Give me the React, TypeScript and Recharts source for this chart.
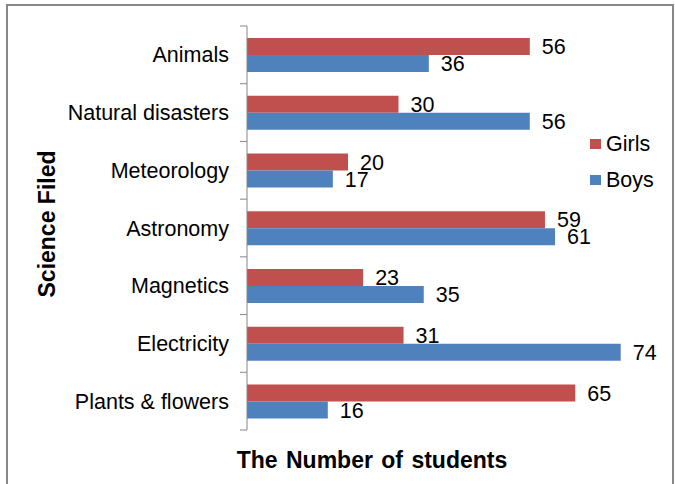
import React from 'react'
import { BarChart, Bar, XAxis, YAxis, Legend, LabelList } from 'recharts'

const categories = ['Animals', 'Natural disasters', 'Meteorology', 'Astronomy', 'Magnetics', 'Electricity', 'Plants & flowers']
const seriesNames = ['Girls', 'Boys']
const girls = [56, 30, 20, 59, 23, 31, 65]
const boys = [36, 56, 17, 61, 35, 74, 16]

const data = categories.map((name, i) => ({ name, girls: girls[i], boys: boys[i] }))

const FONT = '"Liberation Sans", Arial, sans-serif'
const AXIS_GRAY = '#868686'
const MARGIN = { top: 26, right: 24, bottom: 0, left: 67 }
const X_AXIS_H = 54
const PLOT_H = 484 - MARGIN.top - MARGIN.bottom - X_AXIS_H
const STEP = PLOT_H / categories.length

// category label plus the small tick marks that sit between categories
function CategoryTick(props: any) {
  const { x, y, payload, index } = props
  const tickY = y - STEP / 2
  return (
    <g>
      <text x={x} y={y} dy="0.35em" textAnchor="end" fontSize={21.5} fill="#000" fontFamily={FONT}>
        {payload.value}
      </text>
      <line x1={x + 11} x2={x + 18} y1={tickY} y2={tickY} stroke={AXIS_GRAY} />
      {index === categories.length - 1 && (
        <line x1={x + 11} x2={x + 18} y1={y + STEP / 2} y2={y + STEP / 2} stroke={AXIS_GRAY} />
      )}
    </g>
  )
}

function renderLegend(props: any) {
  const items = [...(props.payload || [])].sort(
    (a: any, b: any) => seriesNames.indexOf(a.value) - seriesNames.indexOf(b.value),
  )
  return (
    <div style={{ fontFamily: FONT, fontSize: 21.5, color: '#000' }}>
      {items.map((item: any) => (
        <div key={item.value} style={{ display: 'flex', alignItems: 'center', height: 36 }}>
          <span style={{ width: 11, height: 10, background: item.color, display: 'inline-block', marginRight: 5 }} />
          <span>{item.value}</span>
        </div>
      ))}
    </div>
  )
}

export default function App() {
  return (
    <div style={{ position: 'absolute', left: 0, top: 0, width: 675, height: 484, background: '#fff', overflow: 'hidden' }}>
      <div
        style={{
          position: 'absolute',
          left: 6,
          top: 4,
          width: 668,
          height: 490,
          boxSizing: 'border-box',
          borderTop: '2px solid #888',
          borderLeft: '2px solid #888',
          borderRight: '2px solid #888',
        }}
      />
      <BarChart
        width={675}
        height={484}
        data={data}
        layout="vertical"
        margin={MARGIN}
        barCategoryGap="21%"
        barGap={0}
        style={{ position: 'absolute', left: 0, top: 0 }}
      >
        <XAxis
          type="number"
          domain={[0, 80]}
          height={X_AXIS_H}
          axisLine={false}
          tickLine={false}
          tick={false}
          label={{
            content: (p: any) => {
              const vb = p.viewBox
              return (
                <text
                  x={vb.x + 125}
                  y={vb.y + 38}
                  textAnchor="middle"
                  fontSize={23}
                  fontWeight="bold"
                  wordSpacing={2}
                  fill="#000"
                  fontFamily={FONT}
                >
                  The Number of students
                </text>
              )
            },
          }}
        />
        <YAxis
          type="category"
          dataKey="name"
          width={180}
          axisLine={{ stroke: AXIS_GRAY }}
          tickLine={false}
          tickSize={7}
          tickMargin={11}
          tick={<CategoryTick />}
          interval={0}
          label={{
            content: (p: any) => {
              const vb = p.viewBox
              const cx = vb.x - 20
              const cy = vb.y + vb.height / 2 - 4
              return (
                <text
                  x={cx}
                  y={cy}
                  dy="0.35em"
                  textAnchor="middle"
                  transform={`rotate(-90 ${cx} ${cy})`}
                  fontSize={23}
                  fontWeight="bold"
                  fill="#000"
                  fontFamily={FONT}
                >
                  Science Filed
                </text>
              )
            },
          }}
        />
        <Legend
          layout="horizontal"
          align="center"
          verticalAlign="middle"
          content={renderLegend}
          wrapperStyle={{ left: 590, top: 126, width: 80, height: 72 }}
        />
        <Bar dataKey="girls" name="Girls" fill="#C0504D" isAnimationActive={false}>
          <LabelList dataKey="girls" position="right" offset={12} fill="#000" fontSize={21.5} fontFamily={FONT} />
        </Bar>
        <Bar dataKey="boys" name="Boys" fill="#4F81BD" isAnimationActive={false}>
          <LabelList dataKey="boys" position="right" offset={12} fill="#000" fontSize={21.5} fontFamily={FONT} />
        </Bar>
      </BarChart>
    </div>
  )
}
